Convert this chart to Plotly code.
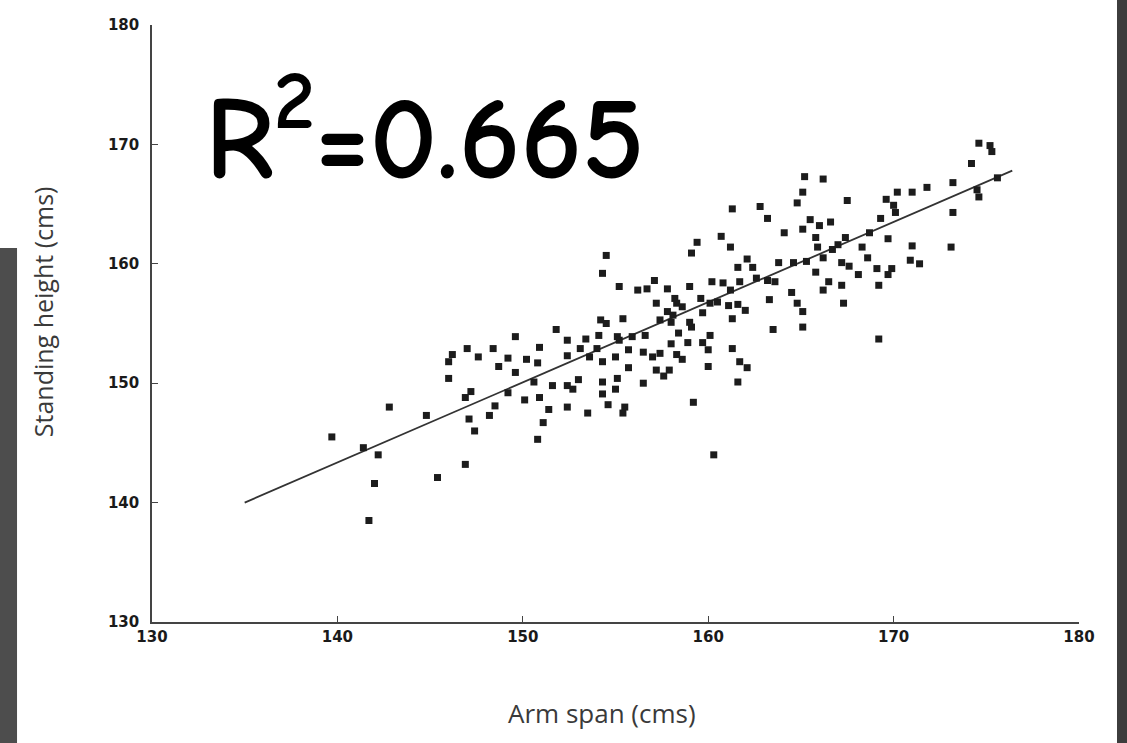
import plotly.graph_objects as go

# arm span (cms)
arm_span = [
    149.6, 147.0, 148.4, 147.6, 146.2, 146.0, 149.2, 148.7, 149.6, 146.0,
    147.2, 146.9, 149.2, 148.5, 148.2, 142.8, 144.8, 147.1, 147.4, 139.7,
    141.4, 142.2, 146.9, 145.4, 142.0, 141.7,
    154.5, 154.3, 155.2, 156.2, 156.7, 157.1, 157.2, 154.2, 154.5, 155.4,
    151.8, 152.4, 153.4, 154.1, 155.1, 155.2, 155.9, 156.6, 150.9, 153.1,
    154.0, 155.7, 156.5, 157.0, 150.2, 150.8, 152.4, 153.6, 154.3, 155.0,
    155.7, 157.2, 150.6, 153.0, 151.6, 152.4, 152.7, 154.3, 155.1, 156.5,
    154.3, 155.0, 150.1, 150.9, 151.4, 152.4, 154.6, 155.5, 155.4, 153.5,
    151.1, 150.8,
    161.3, 162.8, 163.2, 164.1, 160.7, 159.4, 161.2, 159.1, 162.1, 161.6,
    162.4, 163.8, 157.8, 159.0, 160.2, 160.8, 161.7, 162.6, 163.2, 163.6,
    161.2, 158.3, 159.6, 160.1, 160.5, 161.1, 161.6, 162.0, 157.8, 158.1,
    158.6, 159.7, 158.0, 159.1, 161.3, 163.3, 163.5, 158.4, 160.1, 158.0,
    158.9, 159.7, 160.0, 161.3, 157.4, 158.3, 158.6, 161.7, 162.1, 160.0,
    157.6, 157.9, 161.6, 159.2, 160.3, 158.2, 159.0, 157.4,
    165.2, 166.2, 165.1, 164.8, 167.5, 170.2, 171.0, 171.8, 169.6, 170.0,
    170.1, 169.3, 165.5, 165.1, 166.0, 166.6, 165.8, 167.4, 168.7, 169.7,
    165.9, 167.0, 166.7, 168.3, 171.0, 164.6, 165.3, 166.2, 167.2, 167.6,
    168.6, 170.9, 171.4, 165.8, 168.1, 169.1, 169.9, 169.7, 166.5, 166.2,
    167.2, 169.2, 164.5, 164.8, 167.3, 165.1, 165.1, 169.2,
    174.6, 175.2, 175.3, 174.2, 175.6, 173.2, 174.5, 174.6, 173.2, 173.1,
]

# standing height (cms)
standing_height = [
    153.9, 152.9, 152.9, 152.2, 152.4, 151.8, 152.1, 151.4, 150.9, 150.4,
    149.3, 148.8, 149.2, 148.1, 147.3, 148.0, 147.3, 147.0, 146.0, 145.5,
    144.6, 144.0, 143.2, 142.1, 141.6, 138.5,
    160.7, 159.2, 158.1, 157.8, 157.9, 158.6, 156.7, 155.3, 155.0, 155.4,
    154.5, 153.6, 153.7, 154.0, 153.9, 153.6, 153.9, 154.0, 153.0, 152.9,
    152.9, 152.8, 152.6, 152.2, 152.0, 151.7, 152.3, 152.2, 151.8, 152.2,
    151.3, 151.1, 150.1, 150.3, 149.8, 149.8, 149.5, 150.1, 150.4, 150.0,
    149.1, 149.5, 148.6, 148.8, 147.8, 148.0, 148.2, 148.0, 147.5, 147.5,
    146.7, 145.3,
    164.6, 164.8, 163.8, 162.6, 162.3, 161.8, 161.4, 160.9, 160.4, 159.7,
    159.7, 160.1, 157.9, 158.1, 158.5, 158.4, 158.5, 158.8, 158.6, 158.5,
    157.8, 156.7, 157.1, 156.7, 156.8, 156.5, 156.6, 156.1, 156.0, 155.7,
    156.4, 155.9, 155.1, 154.7, 155.4, 157.0, 154.5, 154.2, 154.0, 153.3,
    153.4, 153.4, 152.8, 152.9, 152.5, 152.4, 152.0, 151.8, 151.3, 151.4,
    150.6, 151.1, 150.1, 148.4, 144.0, 157.1, 155.1, 155.3,
    167.3, 167.1, 166.0, 165.1, 165.3, 166.0, 166.0, 166.4, 165.4, 164.9,
    164.3, 163.8, 163.7, 162.9, 163.2, 163.5, 162.2, 162.2, 162.6, 162.1,
    161.4, 161.6, 161.2, 161.4, 161.5, 160.1, 160.2, 160.5, 160.1, 159.8,
    160.5, 160.3, 160.0, 159.3, 159.1, 159.6, 159.6, 159.1, 158.5, 157.8,
    158.2, 158.2, 157.6, 156.7, 156.7, 156.0, 154.7, 153.7,
    170.1, 169.9, 169.4, 168.4, 167.2, 166.8, 166.2, 165.6, 164.3, 161.4,
]

# regression line end points as drawn
fit_x = [135.0, 176.4]
fit_y = [140.0, 167.8]

tick_vals = [130, 140, 150, 160, 170, 180]
tick_text = ["130", "140", "150", "160", "170", "180"]

fig = go.Figure()

fig.add_trace(go.Scatter(x=fit_x, y=fit_y, mode="lines",
                         line=dict(color="#333333", width=1.8),
                         showlegend=False))

fig.add_trace(go.Scatter(x=arm_span, y=standing_height, mode="markers",
                         marker=dict(symbol="square", size=7, color="#1c1c1c",
                                     line=dict(width=0)),
                         showlegend=False))

axis_font = dict(family="DejaVu Sans", size=15, color="#1a1a1a", weight="bold")

fig.update_xaxes(range=[130, 180], tickvals=tick_vals, ticktext=tick_text,
                 showgrid=False, zeroline=False, showline=True,
                 linecolor="#444444", linewidth=1.6,
                 ticks="inside", ticklen=6, tickcolor="#444444",
                 tickfont=axis_font)
fig.update_yaxes(range=[130, 180], tickvals=tick_vals, ticktext=tick_text,
                 showgrid=False, zeroline=False, showline=True,
                 linecolor="#444444", linewidth=1.6,
                 ticks="inside", ticklen=6, tickcolor="#444444",
                 tickfont=axis_font, ticklabelstandoff=8)

# axis titles as annotations so they sit where the scan has them
fig.add_annotation(text="Arm span (cms)", xref="paper", yref="paper",
                   x=0.485, y=-0.152, xanchor="center", yanchor="middle",
                   showarrow=False,
                   font=dict(family="Open Sans, Lato", size=26, color="#3a3a3a"))
fig.add_annotation(text="Standing height (cms)", xref="paper", yref="paper",
                   x=-0.118, y=0.52, xanchor="center", yanchor="middle",
                   textangle=-90, showarrow=False,
                   font=dict(family="Open Sans, Lato", size=25, color="#3a3a3a"))

# big R squared label
fig.add_annotation(text="R<sup>2</sup>=0.665", xref="paper", yref="paper",
                   x=0.055, y=0.822, xanchor="left", yanchor="middle",
                   showarrow=False,
                   font=dict(family="Comic Sans MS, Comic Neue, DejaVu Sans", size=118,
                             color="#000000", weight="bold"))

# dark scanner edges on both sides
fig.add_shape(type="rect", xref="paper", yref="paper",
              x0=-0.164, x1=-0.1456, y0=-0.21, y1=0.6265,
              fillcolor="#4d4d4d", line=dict(width=0), layer="below")
fig.add_shape(type="rect", xref="paper", yref="paper",
              x0=1.041, x1=1.06, y0=-0.21, y1=1.05,
              fillcolor="#3d3d3d", line=dict(width=0), layer="below")

fig.update_layout(width=1127, height=743,
                  margin=dict(l=152, r=48, t=25, b=121),
                  paper_bgcolor="white", plot_bgcolor="white")

# drop the page's default body margin so the figure sits at the window corner
fig.write_html("out.html", config={"displayModeBar": False},
               post_script="document.body.style.margin='0px';")
